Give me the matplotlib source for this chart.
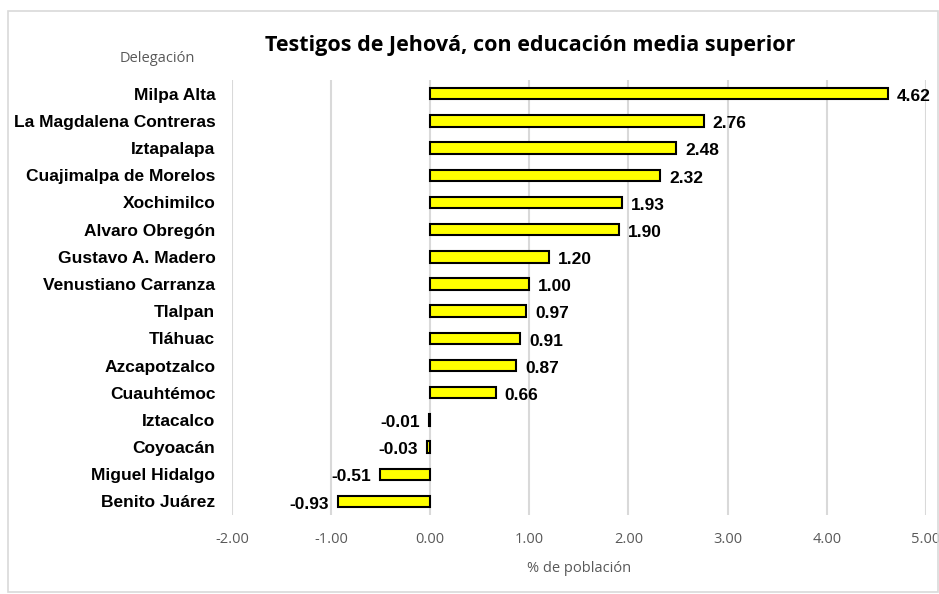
import matplotlib.pyplot as plt
from matplotlib.patches import Rectangle

delegaciones = ["Milpa Alta", "La Magdalena Contreras", "Iztapalapa", "Cuajimalpa de Morelos",
                "Xochimilco", "Alvaro Obregón", "Gustavo A. Madero", "Venustiano Carranza",
                "Tlalpan", "Tláhuac", "Azcapotzalco", "Cuauhtémoc", "Iztacalco", "Coyoacán",
                "Miguel Hidalgo", "Benito Juárez"]
valores = [4.62, 2.76, 2.48, 2.32, 1.93, 1.90, 1.20, 1.00, 0.97, 0.91, 0.87, 0.66,
           -0.01, -0.03, -0.51, -0.93]
xticks = [-2, -1, 0, 1, 2, 3, 4, 5]

grey = "#595959"

def main():
    fig = plt.figure(figsize=(9.39, 5.94), dpi=100)
    fig.patches.append(Rectangle((0.009, 0.004), 0.99, 0.978, transform=fig.transFigure,
                                 fill=False, edgecolor="#d9d9d9", linewidth=1.2))
    ax = fig.add_axes([0.247, 0.133, 0.739, 0.732])

    pos = list(range(len(delegaciones)))
    ax.barh(pos, valores, height=0.42, color="#ffff00", edgecolor="black",
            linewidth=1.5, zorder=3)

    for p, v in zip(pos, valores):
        if v >= 0:
            ax.text(v + 0.09, p + 0.1, "%.2f" % v, ha="left", va="center",
                    fontsize=12.5, fontweight="bold", family="Liberation Sans")
        else:
            ax.text(v - 0.09, p + 0.1, "%.2f" % v, ha="right", va="center",
                    fontsize=12.5, fontweight="bold", family="Liberation Sans")

    ax.set_ylim(len(delegaciones) - 0.5, -0.5)
    ax.set_xlim(-2, 5)
    ax.set_yticks(pos)
    ax.set_yticklabels(delegaciones, fontsize=12.5, fontweight="bold", family="Liberation Sans")
    ax.set_xticks(xticks)
    ax.set_xticklabels(["%.2f" % t for t in xticks], fontsize=10.5, color=grey, family="Open Sans")
    ax.tick_params(axis="y", length=0, pad=12)
    ax.tick_params(axis="x", length=0, pad=12)
    for s in ax.spines.values():
        s.set_visible(False)
    ax.grid(axis="x", color="#d9d9d9", linewidth=1.5, zorder=0)

    ax.set_xlabel("% de población", fontsize=10.5, color=grey, family="Open Sans", labelpad=10)
    fig.text(0.167, 0.902, "Delegación", fontsize=10.5, color=grey, family="Open Sans",
             ha="center", va="center")
    fig.text(0.565, 0.923, "Testigos de Jehová, con educación media superior",
             fontsize=15.5, fontweight="bold", family="Open Sans", ha="center", va="center")

    fig.savefig("out.png", dpi=100)

if __name__ == "__main__":
    main()
